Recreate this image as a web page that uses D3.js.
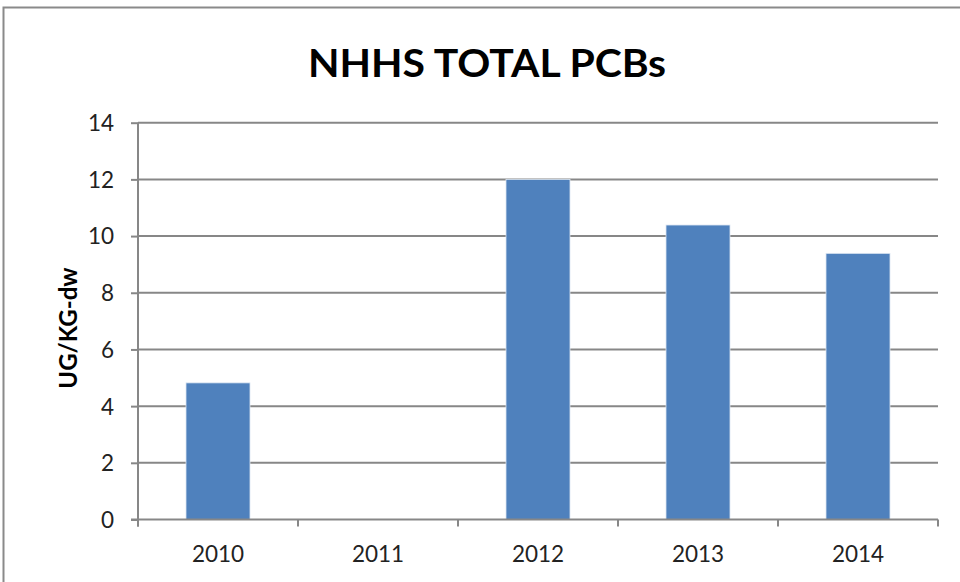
<!DOCTYPE html>
<html><head><meta charset="utf-8">
<script src="https://cdn.jsdelivr.net/npm/d3@7"></script>
<style>html,body{margin:0;padding:0;background:#fff}</style>
</head><body>
<svg id="c" width="960" height="582"></svg>
<script>
const categories = ["2010","2011","2012","2013","2014"];
const values = [4.82, null, 12.0, 10.39, 9.39];
const yTicks = [0,2,4,6,8,10,12,14];
const title = "NHHS TOTAL PCBs";
const yTitle = "UG/KG-dw";

const svg = d3.select("#c");
const font = "Lato, 'Open Sans', sans-serif";
const m = {left:138, right:938, top:122.7, bottom:519.5};

svg.append("rect").attr("x",3.5).attr("y",7.5).attr("width",1200).attr("height",1200)
  .attr("fill","#fff").attr("stroke","#8a8a8a").attr("stroke-width",2);

const x = d3.scaleBand().domain(categories).range([m.left,m.right]).paddingInner(0.6).paddingOuter(0.3);
const xCat = d3.scaleBand().domain(categories).range([m.left,m.right]);
const y = d3.scaleLinear().domain([0,14]).range([m.bottom,m.top]);

// gridlines
svg.append("g").selectAll("line").data(yTicks.filter(d=>d>0)).join("line")
  .attr("x1",m.left).attr("x2",m.right).attr("y1",d=>y(d)).attr("y2",d=>y(d))
  .attr("stroke","#878787").attr("stroke-width",2);

// bars
svg.append("g").selectAll("rect").data(categories.map((c,i)=>({c,v:values[i]})).filter(d=>d.v!=null)).join("rect")
  .attr("x",d=>x(d.c)).attr("width",x.bandwidth())
  .attr("y",d=>y(d.v)).attr("height",d=>y(0)-y(d.v))
  .attr("fill","#4F81BD").attr("stroke","#dce6f2").attr("stroke-width",0.8);

// y axis
const yAxis = d3.axisLeft(y).tickValues(yTicks).tickSize(7).tickPadding(17).tickFormat(d3.format("d"));
const ga = svg.append("g").attr("transform",`translate(${m.left},0)`).call(yAxis);
ga.select(".domain").attr("stroke","#878787").attr("stroke-width",2).attr("d",`M0,${m.top}V${m.bottom+7}`);
ga.selectAll(".tick line").attr("stroke","#878787").attr("stroke-width",2);
ga.selectAll("text").attr("font-family",font).attr("font-size",22.5).attr("fill","#222").attr("dy","0.35em");

// x axis
const xAxis = d3.axisBottom(xCat).tickSize(0).tickPadding(27);
const gx = svg.append("g").attr("transform",`translate(0,${m.bottom})`).call(xAxis);
gx.select(".domain").attr("stroke","#878787").attr("stroke-width",2).attr("d",`M${m.left-7},0H${m.right}`);
gx.selectAll("text").attr("font-family",font).attr("font-size",22.5).attr("fill","#222");
// boundary ticks
const bounds = categories.map(c=>xCat(c)).concat([m.right]);
svg.append("g").selectAll("line").data(bounds).join("line")
  .attr("x1",d=>d).attr("x2",d=>d).attr("y1",m.bottom).attr("y2",m.bottom+7)
  .attr("stroke","#878787").attr("stroke-width",2);

// title
svg.append("text").attr("x",487).attr("y",77).attr("text-anchor","middle")
  .attr("font-family",font).attr("font-weight","bold").attr("font-size",38)
  .attr("textLength",358).attr("lengthAdjust","spacingAndGlyphs").attr("fill","#000").text(title);

// y title
svg.append("text").attr("transform","translate(77,328) rotate(-90)").attr("text-anchor","middle")
  .attr("font-family",font).attr("font-weight","bold").attr("font-size",24).attr("fill","#000").text(yTitle);
</script>
</body></html>
